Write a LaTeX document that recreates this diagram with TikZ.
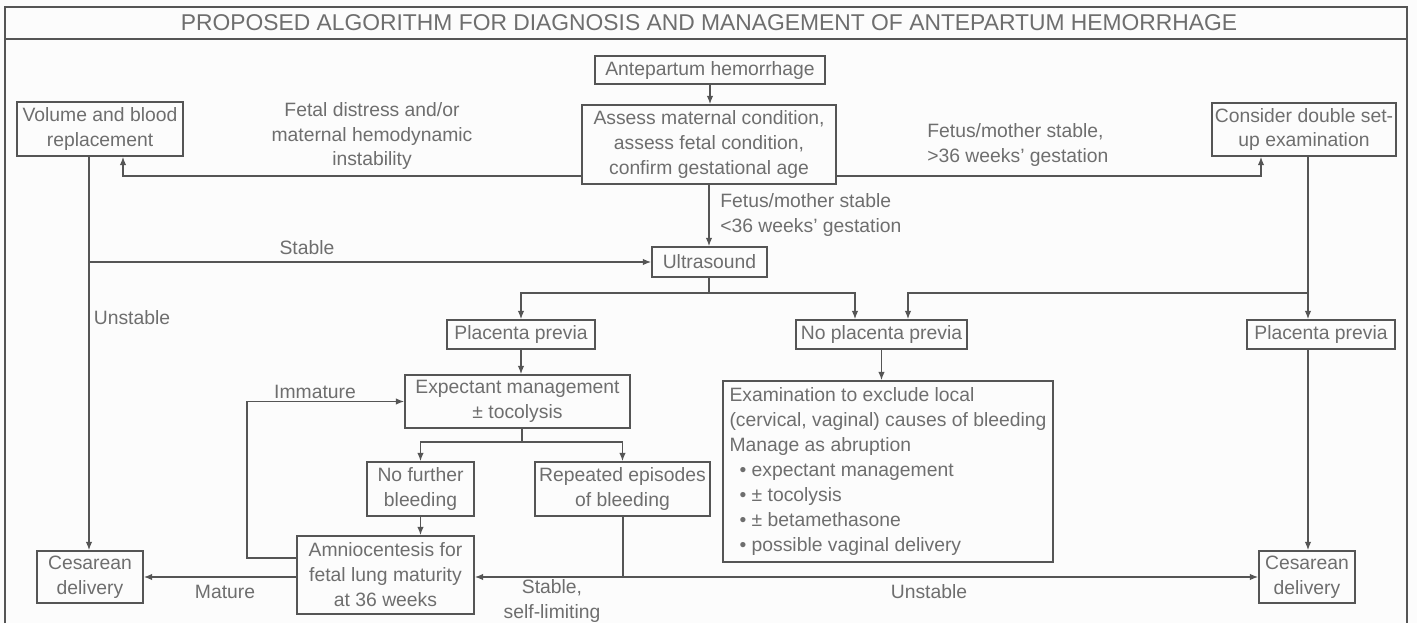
\documentclass[tikz,border=0pt]{standalone}
\usepackage{fontspec}
\setmainfont{Liberation Sans}
\usetikzlibrary{arrows.meta}
\definecolor{linegray}{RGB}{85,85,85}
\definecolor{textgray}{RGB}{110,110,110}
\definecolor{bgwhite}{RGB}{252,252,252}

\begin{document}
\begin{tikzpicture}[x=0.02cm,y=-0.02cm,
  box/.style={draw=linegray, line width=0.8pt, text=textgray, align=center,
    inner sep=0pt, font=\fontsize{11}{14.2}\selectfont},
  sz/.style 2 args={minimum width=#1*0.02cm, minimum height=#2*0.02cm},
  lbl/.style={text=textgray, align=center, inner sep=0pt,
    font=\fontsize{11}{14.2}\selectfont},
  line/.style={draw=linegray, line width=0.8pt},
  arr/.style={line, -{Latex[length=1.7mm,width=1.3mm]}}]

% Background
\fill[bgwhite] (0,0) rectangle (1417,623);
\useasboundingbox (0,0) rectangle (1417,623);

% Frame and title
\draw[line] (5,623) -- (5,7) -- (1407,7) -- (1407,623);
\draw[line] (5,39) -- (1407,39);
\node[text=textgray, font=\fontsize{13}{15}\selectfont] (title) at (709,23)
  {PROPOSED ALGORITHM FOR DIAGNOSIS AND MANAGEMENT OF ANTEPARTUM HEMORRHAGE};

% Boxes
\node[box, sz={230}{28}] (hem) at (710,70) {Antepartum hemorrhage};
\node[box, sz={254}{79}] (assess) at (709,144.5)
  {Assess maternal condition,\\assess fetal condition,\\confirm gestational age};
\node[box, sz={166}{54}] (vol) at (100,129) {Volume and blood\\replacement};
\node[box, sz={184}{53}] (cons) at (1304,129.5) {Consider double set-\\up examination};
\node[box, sz={115}{30}] (us) at (709.5,262) {Ultrasound};
\node[box, sz={148}{29}] (pp1) at (521,334.5) {Placenta previa};
\node[box, sz={171}{29}] (npp) at (881.5,334.5) {No placenta previa};
\node[box, sz={148}{29}] (pp2) at (1321,334.5) {Placenta previa};
\node[box, sz={225}{53}] (exp) at (517.5,401.5) {Expectant management\\± tocolysis};
\node[box, sz={107}{54}] (nfb) at (420.5,489) {No further\\bleeding};
\node[box, sz={175}{54}] (rep) at (622.5,489) {Repeated episodes\\of bleeding};
\node[box, sz={177}{78}] (amn) at (385.5,575)
  {Amniocentesis for\\fetal lung maturity\\at 36 weeks};
\node[box, sz={106}{52}] (ces1) at (90,577) {Cesarean\\delivery};
\node[box, sz={96}{52}] (ces2) at (1307,577) {Cesarean\\delivery};
\node[box, sz={330}{181}, align=left] (exam) at (888,471.5)
  {Examination to exclude local\\
   (cervical, vaginal) causes of bleeding\\
   Manage as abruption\\
   \hspace*{0.2cm}• expectant management\\
   \hspace*{0.2cm}• ± tocolysis\\
   \hspace*{0.2cm}• ± betamethasone\\
   \hspace*{0.2cm}• possible vaginal delivery};

% Junctions
\coordinate (lj) at (123,176);
\coordinate (rj) at (1261,176);
\coordinate (vl) at (89,262);
\coordinate (usj) at (709,293);
\coordinate (npa) at (855,293);
\coordinate (npb) at (908,293);
\coordinate (rx) at (1308,293);
\coordinate (expj) at (522,442);
\coordinate (imm) at (247,558);
\coordinate (repj) at (623,577);

% Top part
\draw[arr] (hem.south) -- (assess.north -| hem.south);
\draw[arr] (assess.west |- lj) -| (vol.south -| lj);
\draw[arr] (assess.east |- rj) -| (cons.south -| rj);
\draw[arr] (assess.south) -- (us.north -| assess.south);
\draw[arr] (vol.south -| vl) -- (ces1.north -| vl);
\draw[arr] (vl) -- (us.west);

% Ultrasound split
\draw[line] (us.south -| usj) -- (usj);
\draw[arr] (usj) -| (pp1.north);
\draw[arr] (usj) -- (npa) -- (npp.north -| npa);
\draw[arr] (cons.south -| rx) -- (pp2.north -| rx);
\draw[arr] (rx) -- (npb) -- (npp.north -| npb);
\draw[arr] (pp2.south -| rx) -- (ces2.north -| rx);
\draw[arr] (npp.south) -- (exam.north -| npp.south);

% Placenta previa branch
\draw[arr] (pp1.south) -- (exp.north -| pp1.south);
\draw[line] (exp.south -| expj) -- (expj);
\draw[arr] (expj) -| (nfb.north);
\draw[arr] (expj) -| (rep.north);
\draw[arr] (nfb.south) -- (amn.north -| nfb.south);
\draw[arr] (amn.west |- imm) -- (imm) |- (exp.west);
\draw[arr] (amn.west |- ces1.east) -- (ces1.east);
\draw[line] (rep.south -| repj) -- (repj);
\draw[arr] (repj) -- (amn.east |- repj);
\draw[arr] (repj) -- (ces2.west |- repj);

% Labels
\node[lbl] (fd) at (372,136) {Fetal distress and/or\\maternal hemodynamic\\instability};
\node[lbl, align=left, anchor=west] (fsg) at (927,145) {Fetus/mother stable,\\>36 weeks' gestation};
\node[lbl, align=left, anchor=west] (fsl) at (720,215) {Fetus/mother stable\\<36 weeks' gestation};
\node[lbl] (st) at (307,248) {Stable};
\node[lbl] (un1) at (132,318) {Unstable};
\node[lbl] (im) at (315,392) {Immature};
\node[lbl] (ma) at (225,592) {Mature};
\node[lbl] (sl) at (552,601) {Stable,\\self-limiting};
\node[lbl] (un2) at (929,592) {Unstable};

\end{tikzpicture}
\end{document}
